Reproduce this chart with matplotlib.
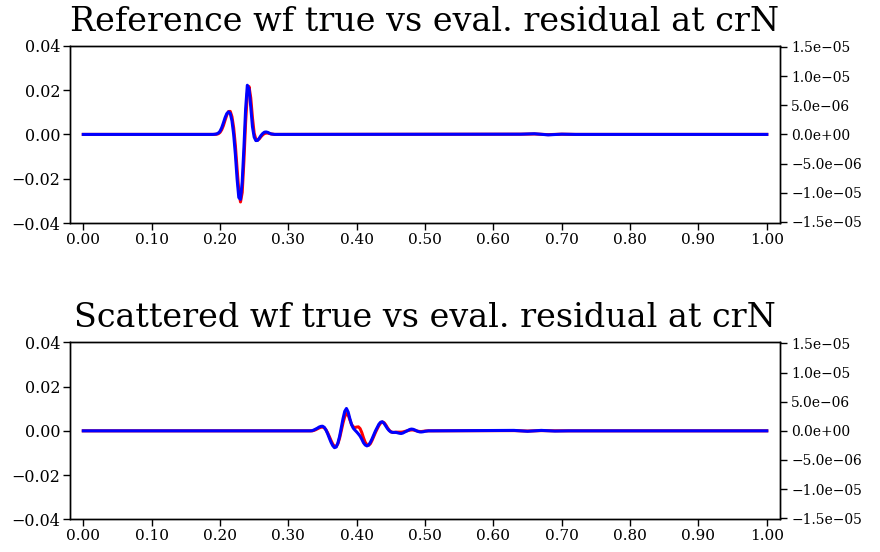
import numpy as np
import matplotlib
matplotlib.use('Agg')
import matplotlib.pyplot as plt
from matplotlib.ticker import FuncFormatter, FixedLocator

# ── DATA ──────────────────────────────────────────────────────────────────
TOP_T = [0.0, 0.19, 0.1925, 0.195, 0.1975, 0.2, 0.2025, 0.205, 0.2075, 0.21,
         0.2125, 0.215, 0.2175, 0.22, 0.2225, 0.225, 0.2275, 0.23, 0.2325,
         0.235, 0.2375, 0.24, 0.2425, 0.245, 0.2475, 0.25, 0.2525, 0.255,
         0.2575, 0.26, 0.2625, 0.265, 0.2675, 0.27, 0.2725, 0.275, 0.2775,
         0.28, 0.64, 0.66, 0.68, 0.70, 0.72, 1.0]
TOP_TRUE = [0.0, 0.0, 0.0, 0.0001, 0.0003, 0.0009, 0.0021, 0.0040, 0.0065,
            0.0088, 0.0103, 0.0104, 0.0080, 0.0030, -0.0050, -0.0155, -0.0255,
            -0.0305, -0.0262, -0.0120, 0.0055, 0.0185, 0.0216, 0.0165, 0.0075,
            0.0005, -0.0022, -0.0026, -0.0020, -0.0010, -0.0002, 0.0004,
            0.0006, 0.0006, 0.0004, 0.0002, 0.0001, 0.0, 0.0001, 0.0002,
            -0.0001, 0.0001, 0.0, 0.0]
TOP_EVAL = [0.0, 0.0, 0.0001, 0.0002, 0.0006, 0.0014, 0.0030, 0.0052, 0.0076,
            0.0094, 0.0102, 0.0095, 0.0062, 0.0000, -0.0090, -0.0200, -0.0285,
            -0.0293, -0.0215, -0.0060, 0.0115, 0.0222, 0.0205, 0.0125, 0.0035,
            -0.0012, -0.0028, -0.0027, -0.0017, -0.0005, 0.0004, 0.0010,
            0.0011, 0.0009, 0.0005, 0.0002, 0.0001, 0.0, 0.0001, 0.0003,
            -0.0002, 0.0001, 0.0, 0.0]

BOT_T = [0.0, 0.33, 0.3325, 0.335, 0.3375, 0.34, 0.3425, 0.345, 0.3475, 0.35,
         0.3525, 0.355, 0.3575, 0.36, 0.3625, 0.365, 0.3675, 0.37, 0.3725,
         0.375, 0.3775, 0.38, 0.3825, 0.385, 0.3875, 0.39, 0.3925, 0.395,
         0.3975, 0.4, 0.4025, 0.405, 0.4075, 0.41, 0.4125, 0.415, 0.4175,
         0.42, 0.4225, 0.425, 0.4275, 0.43, 0.4325, 0.435, 0.4375, 0.44,
         0.4425, 0.445, 0.4475, 0.45, 0.4525, 0.455, 0.4575, 0.46, 0.4625,
         0.465, 0.4675, 0.47, 0.4725, 0.475, 0.4775, 0.48, 0.4825, 0.485,
         0.4875, 0.49, 0.4925, 0.495, 0.4975, 0.5, 0.505, 0.51,
         0.63, 0.65, 0.67, 0.69, 0.71, 1.0]
BOT_TRUE = [0.0, 0.0, 0.0, 0.0, 0.0002, 0.0005, 0.0009, 0.0013, 0.0016, 0.0017,
            0.0014, 0.0005, -0.0009, -0.0026, -0.0044, -0.0060, -0.0070,
            -0.0071, -0.0058, -0.0033, 0.0001, 0.0036, 0.0064, 0.0078, 0.0072,
            0.0050, 0.0029, 0.0018, 0.0015, 0.0017, 0.0018, 0.0010, -0.0008,
            -0.0032, -0.0052, -0.0063, -0.0065, -0.0058, -0.0043, -0.0025,
            -0.0007, 0.0009, 0.0024, 0.0035, 0.0040, 0.0037, 0.0027, 0.0014,
            0.0003, -0.0004, -0.0007, -0.0007, -0.0006, -0.0006, -0.0006,
            -0.0006, -0.0005, -0.0003, -0.0001, 0.0001, 0.0003, 0.0004, 0.0004,
            0.0002, 0.0, -0.0002, -0.0003, -0.0003, -0.0002, -0.0001, 0.0, 0.0,
            0.0001, -0.0001, 0.0001, 0.0, 0.0, 0.0]
BOT_EVAL = [0.0, 0.0, 0.0, 0.0001, 0.0004, 0.0008, 0.0012, 0.0017, 0.0020,
            0.0021, 0.0016, 0.0004, -0.0013, -0.0033, -0.0052, -0.0067,
            -0.0076, -0.0073, -0.0055, -0.0025, 0.0015, 0.0055, 0.0088, 0.0101,
            0.0085, 0.0055, 0.0028, 0.0012, 0.0003, -0.0005, -0.0014, -0.0024,
            -0.0038, -0.0054, -0.0064, -0.0068, -0.0064, -0.0052, -0.0036,
            -0.0018, 0.0000, 0.0015, 0.0030, 0.0039, 0.0041, 0.0034, 0.0022,
            0.0010, 0.0001, -0.0005, -0.0007, -0.0007, -0.0007, -0.0009,
            -0.0011, -0.0012, -0.0010, -0.0006, -0.0002, 0.0002, 0.0006,
            0.0008, 0.0007, 0.0004, 0.0000, -0.0003, -0.0005, -0.0005, -0.0004,
            -0.0002, 0.0, 0.0,
            0.0002, -0.0002, 0.0002, -0.0001, 0.0, 0.0]

TITLES = ['Reference wf true vs eval. residual at crN',
          'Scattered wf true vs eval. residual at crN']
X_TICKS = [0.0, 0.1, 0.2, 0.3, 0.4, 0.5, 0.6, 0.7, 0.8, 0.9, 1.0]
Y_TICKS = [-0.04, -0.02, 0.0, 0.02, 0.04]
R_TICKS = [-1.5e-05, -1.0e-05, -5.0e-06, 0.0, 5.0e-06, 1.0e-05, 1.5e-05]

# ── STYLE ─────────────────────────────────────────────────────────────────
plt.rcParams.update({
    'font.family': 'DejaVu Serif',
    'axes.linewidth': 1.0,
    'xtick.labelsize': 11,
    'ytick.labelsize': 11,
})


def sci(v, pos):
    return ('%.1e' % v).replace('-', '\u2212')


def fixed2(v, pos):
    return ('%.2f' % v).replace('-', '\u2212')


fig = plt.figure(figsize=(8.8, 5.52), dpi=100)
panels = [(TOP_T, TOP_TRUE, TOP_EVAL, 0.596), (BOT_T, BOT_TRUE, BOT_EVAL, 0.059)]

for (t, y_true, y_eval, bottom), title in zip(panels, TITLES):
    ax = fig.add_axes([0.0795, bottom, 0.807, 0.321])
    ax.plot(t, y_true, color='red', linewidth=2.2, zorder=2)
    ax.plot(t, y_eval, color='blue', linewidth=2.2, zorder=3)
    ax.set_xlim(-0.0195, 1.0195)
    ax.set_ylim(-0.04, 0.04)
    ax.xaxis.set_major_locator(FixedLocator(X_TICKS))
    ax.yaxis.set_major_locator(FixedLocator(Y_TICKS))
    ax.xaxis.set_major_formatter(FuncFormatter(fixed2))
    ax.yaxis.set_major_formatter(FuncFormatter(fixed2))
    ax.tick_params(direction='out', length=5, width=1, pad=2)
    ax.tick_params(axis='y', labelsize=11.5)
    ax.set_title(title, fontsize=24, pad=11)

    axr = ax.twinx()
    axr.set_ylim(-1.52e-05, 1.52e-05)
    axr.yaxis.set_major_locator(FixedLocator(R_TICKS))
    axr.yaxis.set_major_formatter(FuncFormatter(sci))
    axr.tick_params(direction='out', length=5, width=1, pad=3, labelsize=10)

fig.savefig('out.png', dpi=100)
